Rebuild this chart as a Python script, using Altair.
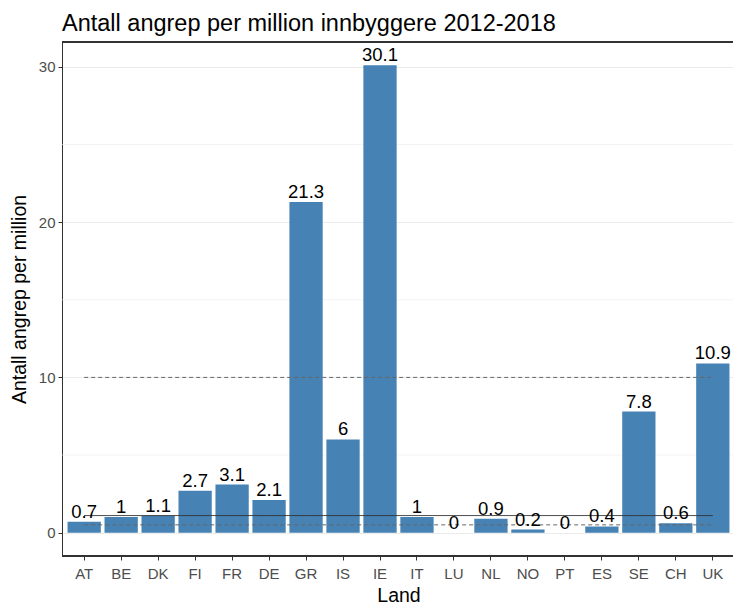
import altair as alt
import pandas as pd

land = ["AT", "BE", "DK", "FI", "FR", "DE", "GR", "IS", "IE", "IT",
        "LU", "NL", "NO", "PT", "ES", "SE", "CH", "UK"]
verdi = [0.7, 1, 1.1, 2.7, 3.1, 2.1, 21.3, 6, 30.1, 1,
         0, 0.9, 0.2, 0, 0.4, 7.8, 0.6, 10.9]

linje_navn = ["median", "lav", "hoy"]
linje_verdi = [1.1, 0.5, 10]
linje_type = ["solid", "dashed", "dashed"]

minor_grid = [5, 15, 25]

FONT = "Liberation Sans"
W, H = 671, 514
XRANGE = 673

df = pd.DataFrame({"Land": land, "Verdi": verdi})
lines_df = pd.DataFrame(
    [{"Land": l, "Verdi": v, "id": n, "type": t}
     for n, v, t in zip(linje_navn, linje_verdi, linje_type) for l in land]
)
minor_df = pd.DataFrame({"v": minor_grid})

xscale = alt.Scale(domain=land, range=[0, XRANGE], paddingInner=0.1, paddingOuter=0.15)
yscale = alt.Scale(domain=[-1.505, 31.605], nice=False, zero=False)

x_enc = alt.X("Land:N", sort=land, scale=xscale,
              axis=alt.Axis(title="Land", domain=False, labelAngle=0, bandPosition=0.5,
                            labelColor="#4D4D4D", labelFontSize=15, labelFont=FONT,
                            tickColor="#333333", tickSize=4, labelPadding=6,
                            titleFontSize=19.5, titleFont=FONT, titleFontWeight="normal",
                            titleColor="black", titlePadding=5,
                            gridColor="#EBEBEB", gridWidth=1))
y_enc = alt.Y("Verdi:Q", scale=yscale,
              axis=alt.Axis(title="Antall angrep per million", values=[0, 10, 20, 30],
                            labelColor="#4D4D4D", labelFontSize=15, labelFont=FONT,
                            tickColor="#333333", tickSize=4, labelPadding=3,
                            domainColor="#333333", domainWidth=1,
                            titleFontSize=19.5, titleFont=FONT, titleFontWeight="normal",
                            titleColor="black", titlePadding=9,
                            gridColor="#EBEBEB", gridWidth=1))

minor = alt.Chart(minor_df).mark_rule(color="#EBEBEB", strokeWidth=0.6).encode(
    y=alt.Y("v:Q", scale=yscale)
)

bars = alt.Chart(df).mark_bar(color="#4682B4", clip=True).encode(x=x_enc, y=y_enc)

lines = alt.Chart(lines_df).mark_line(strokeWidth=1, clip=True).encode(
    x=alt.X("Land:N", sort=land, scale=xscale),
    y=alt.Y("Verdi:Q", scale=yscale),
    detail="id:N",
    color=alt.Color("type:N", scale=alt.Scale(domain=["solid", "dashed"], range=["#333333", "#666666"]), legend=None),
    strokeDash=alt.StrokeDash("type:N", scale=alt.Scale(domain=["solid", "dashed"], range=[[1, 0], [4, 3]]), legend=None),
)

text = alt.Chart(df).mark_text(baseline="alphabetic", dy=-4, fontSize=18.5, font=FONT,
                               color="black", clip=True).encode(
    x=alt.X("Land:N", sort=land, scale=xscale),
    y=alt.Y("Verdi:Q", scale=yscale),
    text=alt.Text("Verdi:Q", format=".3~g"),
)

border_top = alt.Chart(df).mark_rule(color="#333333", strokeWidth=1).encode(y=alt.value(0))
border_bottom = alt.Chart(df).mark_rule(color="#333333", strokeWidth=1).encode(y=alt.value(H))

chart = alt.layer(minor, bars, lines, text, border_top, border_bottom).properties(
    width=W, height=H,
    autosize=alt.AutoSizeParams(type="none"),
    padding={"left": 54, "top": 34, "right": 0, "bottom": 50},
    title=alt.TitleParams("Antall angrep per million innbyggere 2012-2018", anchor="start",
                          font=FONT, fontSize=23.5, fontWeight="normal", color="black",
                          baseline="alphabetic", offset=14, dy=26.5, frame="group"),
).configure_view(stroke=None).configure(background="white")

chart.save("out.html", embed_options={"renderer": "svg", "actions": False})
